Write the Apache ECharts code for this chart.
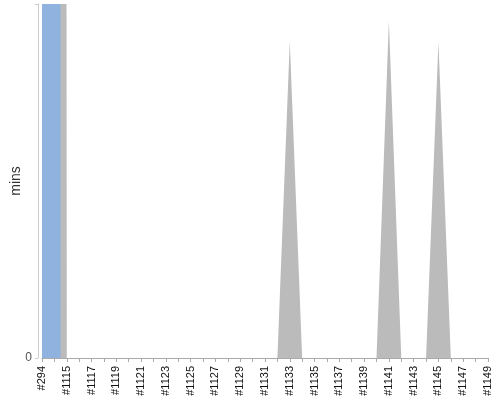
<!DOCTYPE html>
<html>
<head>
<meta charset="utf-8">
<script src="https://cdn.jsdelivr.net/npm/echarts@6/dist/echarts.min.js"></script>
<style>html,body{margin:0;padding:0;background:#fff}#c{width:500px;height:400px}</style>
</head>
<body>
<div id="c"></div>
<script>
// Build numbers (category axis)
var builds = ['#294', '#1114'];
for (var n = 1115; n <= 1149; n++) builds.push('#' + n);

// Build durations in minutes (off-scale values for the first builds)
var successMins = [5000, 5000, 0];
var otherMins = [5000, 5000, 0, 0, 0, 0, 0, 0, 0, 0, 0, 0, 0, 0, 0, 0, 0, 0, 0, 0,
  89.5, 0, 0, 0, 0, 0, 0, 0, 95.2, 0, 0, 0, 89.3, 0, 0, 0, 0];
var yTicks = [0];

var chart = echarts.init(document.getElementById('c'));
chart.setOption({
  animation: false,
  grid: {left: 42, right: 12, top: 4, bottom: 42, containLabel: false, outerBoundsMode: 'none'},
  xAxis: {
    type: 'category',
    data: builds,
    boundaryGap: false,
    offset: 3,
    axisLine: {lineStyle: {color: '#aaaaaa'}},
    axisTick: {interval: 0, length: 4, lineStyle: {color: '#aaaaaa'}},
    axisLabel: {interval: 1, rotate: 90, fontSize: 11, color: '#111', fontFamily: 'Liberation Sans', margin: 5}
  },
  yAxis: {
    type: 'value',
    min: 0, max: 100, interval: 100,
    offset: 4,
    name: 'mins',
    nameLocation: 'middle',
    nameGap: 15,
    nameMoveOverlap: false,
    nameTextStyle: {fontSize: 14, color: '#333', fontFamily: 'Liberation Sans'},
    splitLine: {show: false},
    axisLine: {show: true, lineStyle: {color: '#cccccc'}},
    axisTick: {show: true, length: 3, lineStyle: {color: '#cccccc'}},
    axisLabel: {fontSize: 12, color: '#555', fontFamily: 'Liberation Sans', margin: 6,
      formatter: function (v) { return yTicks.indexOf(v) >= 0 ? String(v) : ''; }}
  },
  series: [
    {
      type: 'line', data: otherMins, symbol: 'none', clip: true,
      lineStyle: {width: 0}, areaStyle: {color: '#bbbbbb', opacity: 1}
    },
    {
      type: 'line', data: successMins, step: 'middle', symbol: 'none', clip: true,
      lineStyle: {width: 0}, areaStyle: {color: '#8fb3de', opacity: 1}
    }
  ]
});
</script>
</body>
</html>
